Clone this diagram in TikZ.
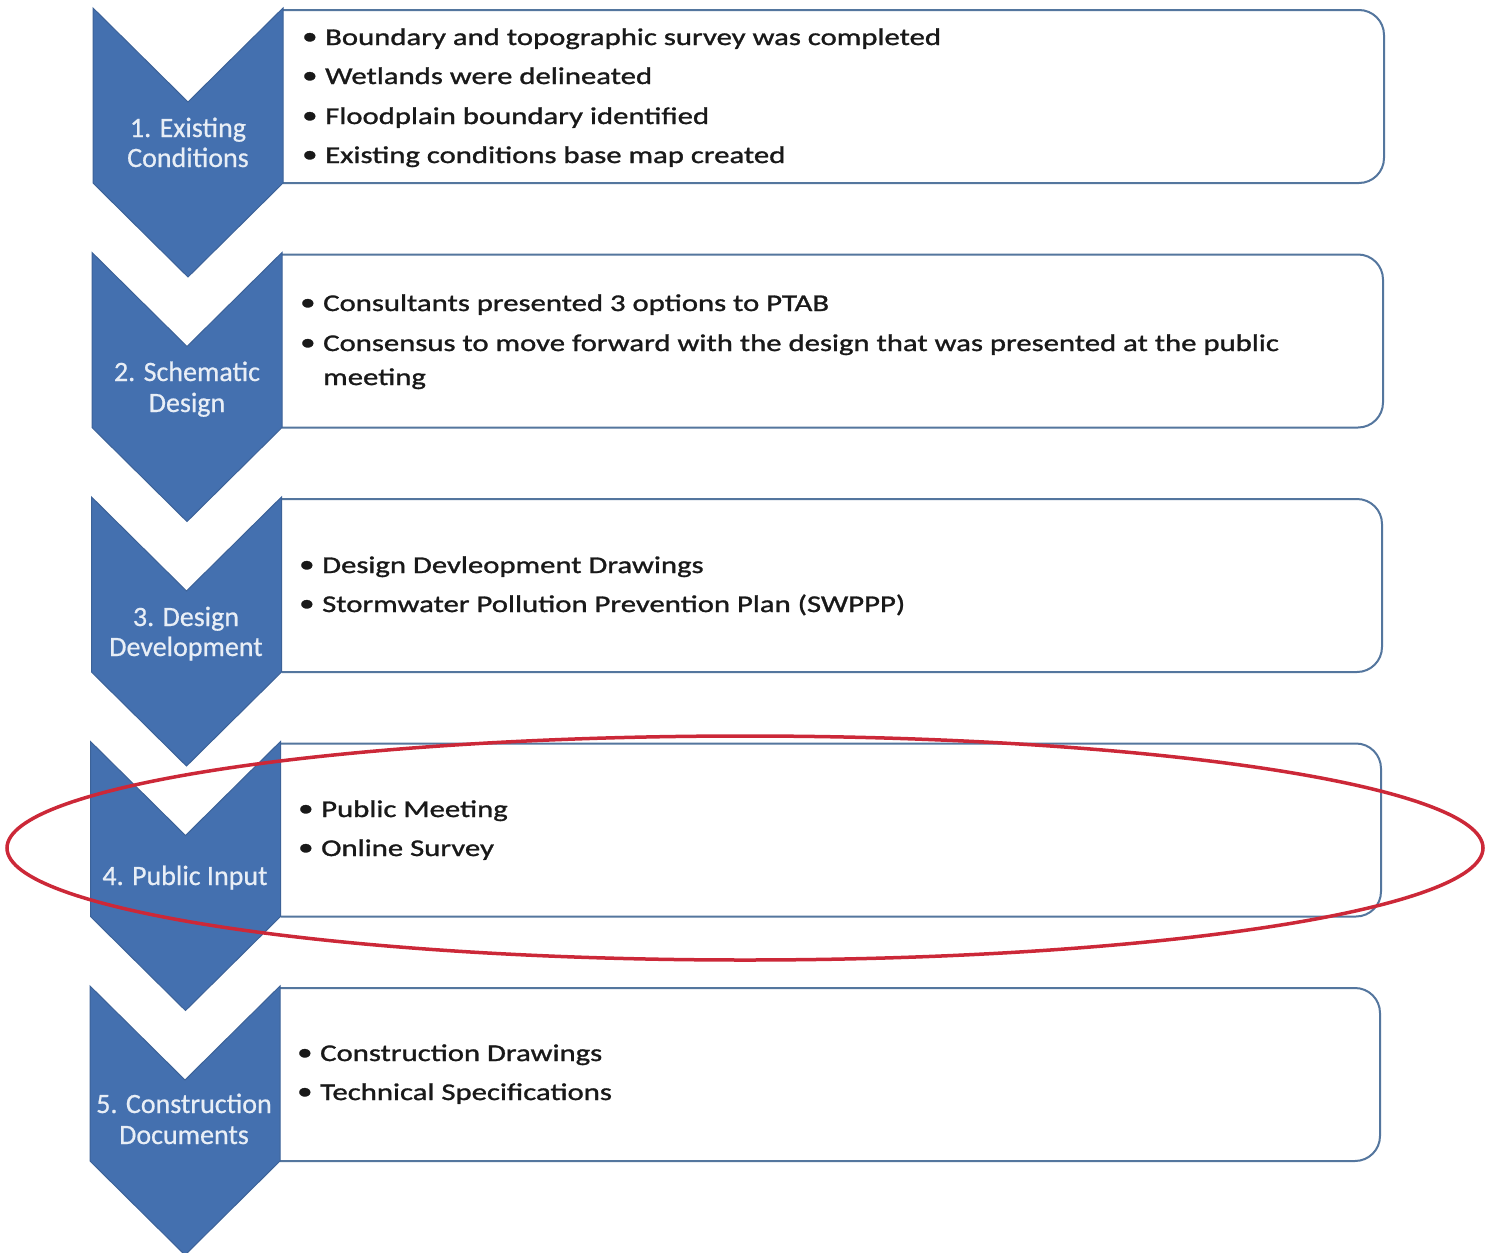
\documentclass[tikz,border=0pt]{standalone}
\usepackage{fontspec}
\setmainfont{Carlito}
\newfontfamily\bodyfont[FakeStretch=1.28,FakeBold=1.2]{Carlito}
\newfontfamily\chevfont[FakeBold=0.6]{Carlito}
\definecolor{chevfill}{RGB}{68,112,175}
\definecolor{chevline}{RGB}{60,98,152}
\definecolor{boxline}{RGB}{84,118,158}
\definecolor{bodytext}{RGB}{25,25,25}
\definecolor{chevtextcol}{RGB}{232,238,246}
\definecolor{ringred}{RGB}{204,40,56}
\tikzset{
  chev/.style={fill=chevfill,draw=chevline,line width=1pt,line join=miter},
  panel/.style={draw=boxline,line width=2pt,rounded corners=25pt},
  panelfill/.style={fill=white,rounded corners=25pt},
  chevtext/.style={font=\chevfont\fontsize{28}{31}\selectfont,text=chevtextcol,anchor=base,inner sep=0pt},
  item/.style={font=\bodyfont\fontsize{24}{30}\selectfont,text=bodytext,anchor=base west,inner sep=0pt},
}
\newcommand{\bl}[1]{\makebox[23pt][l]{\raisebox{1pt}{•}}#1}
\newcommand{\nobl}[1]{\makebox[23pt][l]{}#1}
\begin{document}
\begin{tikzpicture}[x=1pt,y=-1pt]
\useasboundingbox (0,0) rectangle (1494,1253);
\fill[white] (0,0) rectangle (1494,1253);
% rows
\foreach \i/\T/\L/\R/\X in {1/8/93/283/1384,2/252.5/92/282/1383,3/497/91.5/281.5/1382,4/741.5/90.5/280.5/1381,5/986/90/280/1380}{
  \fill[panelfill] (\R,\T+2) -- (\X,\T+2) -- (\X,\T+175) -- (\R,\T+175) [sharp corners] -- cycle;
  \draw[panel] (\R,\T+2) -- (\X,\T+2) -- (\X,\T+175) -- (\R,\T+175);
  \draw[chev] (\L,\T) -- ({(\L+\R)/2},\T+94) -- (\R,\T) -- (\R,\T+175) -- ({(\L+\R)/2},\T+269) -- (\L,\T+175) -- cycle;
}
% chevron labels
\node[chevtext] (c1a) at (188,137) {1. Existing};
\node[chevtext] (c1b) at (188,167) {Conditions};
\node[chevtext] (c2a) at (187,381) {2. Schematic};
\node[chevtext] (c2b) at (187,412) {Design};
\node[chevtext] (c3a) at (186,626) {3. Design};
\node[chevtext] (c3b) at (186,656) {Development};
\node[chevtext] (c4a) at (185,885) {4. Public Input};
\node[chevtext] (c5a) at (184,1113) {5. Construction};
\node[chevtext] (c5b) at (184,1144) {Documents};
% items
\node[item] (i1a) at (302,45) {\bl{Boundary and topographic survey was completed}};
\node[item] (i1b) at (302,84) {\bl{Wetlands were delineated}};
\node[item] (i1c) at (302,124) {\bl{Floodplain boundary identified}};
\node[item] (i1d) at (302,163) {\bl{Existing conditions base map created}};
\node[item] (i2a) at (300,311) {\bl{Consultants presented 3 options to PTAB}};
\node[item] (i2b) at (300,351) {\bl{Consensus to move forward with the design that was presented at the public}};
\node[item] (i2c) at (300,385) {\nobl{meeting}};
\node[item] (i3a) at (299,573) {\bl{Design Devleopment Drawings}};
\node[item] (i3b) at (299,612) {\bl{Stormwater Pollution Prevention Plan (SWPPP)}};
\node[item] (i4a) at (298,817) {\bl{Public Meeting}};
\node[item] (i4b) at (298,856) {\bl{Online Survey}};
\node[item] (i5a) at (297,1061) {\bl{Construction Drawings}};
\node[item] (i5b) at (297,1100) {\bl{Technical Specifications}};
% red ring
\draw[ringred,line width=3.5pt] (745,848) ellipse [x radius=738,y radius=112];
\end{tikzpicture}
\end{document}
